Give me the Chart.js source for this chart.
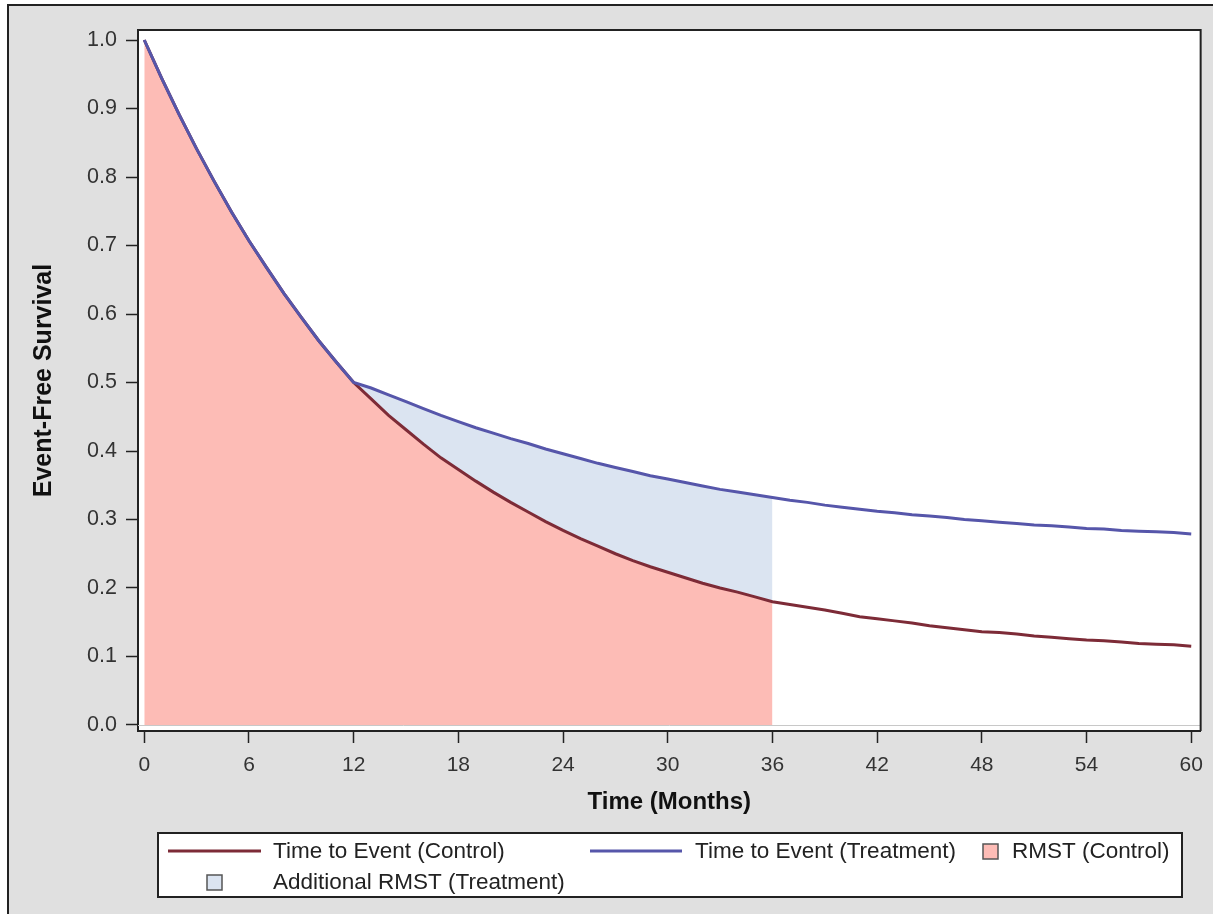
<!DOCTYPE html>
<html><head><meta charset="utf-8">
<script src="https://cdn.jsdelivr.net/npm/chart.js@4"></script>
<style>
html,body{margin:0;padding:0;background:#fff;overflow:hidden;}
#frame{position:absolute;left:7px;top:4px;width:1240px;height:940px;border:2px solid #222;background:#e0e0e0;}
#c{position:absolute;left:0;top:0;width:1213px;height:914px;}
</style></head><body>
<div id="frame"></div>
<canvas id="c" width="1213" height="914"></canvas>
<script>
const months = [0,1,2,3,4,5,6,7,8,9,10,11,12,13,14,15,16,17,18,19,20,21,22,23,24,25,26,27,28,29,30,31,32,33,34,35,36,37,38,39,40,41,42,43,44,45,46,47,48,49,50,51,52,53,54,55,56,57,58,59,60];
const controlSurvival = [1.000,0.944,0.891,0.841,0.794,0.749,0.707,0.668,0.630,0.595,0.561,0.530,0.500,
  0.476,0.452,0.431,0.410,0.390,0.373,0.356,0.340,0.325,0.311,0.297,0.284,0.272,0.261,0.250,0.240,0.231,0.223,
  0.215,0.207,0.200,0.194,0.187,0.180,0.176,0.172,0.168,0.163,0.158,0.155,0.152,0.149,0.145,0.142,0.139,0.136,
  0.135,0.133,0.130,0.128,0.126,0.124,0.123,0.121,0.119,0.118,0.117,0.115];
const treatmentSurvival = [1.000,0.944,0.891,0.841,0.794,0.749,0.707,0.668,0.630,0.595,0.561,0.530,0.500,
  0.492,0.482,0.472,0.462,0.452,0.443,0.434,0.426,0.418,0.411,0.403,0.396,0.389,0.382,0.376,0.370,0.364,0.359,
  0.354,0.349,0.344,0.340,0.336,0.332,0.328,0.325,0.321,0.318,0.315,0.312,0.310,0.307,0.305,0.303,0.300,0.298,
  0.296,0.294,0.292,0.291,0.289,0.287,0.286,0.284,0.283,0.282,0.281,0.279];
const rmstCutoff = 36;
const xTickValues = [0,6,12,18,24,30,36,42,48,54,60];
const yTickValues = [0,0.1,0.2,0.3,0.4,0.5,0.6,0.7,0.8,0.9,1.0];
const seriesLabels = ['Time to Event (Control)','Time to Event (Treatment)','RMST (Control)','Additional RMST (Treatment)'];

const C_CONTROL = '#7d2b37', C_TREAT = '#5656aa', C_PINK = '#fdbcb6', C_BLUE = '#dbe4f1';
const FONT = "'Liberation Sans', Arial, Helvetica, sans-serif";
Chart.defaults.font.family = FONT;
Chart.defaults.color = '#222';

const pts = (arr, lim) => months.map((m,i)=>({x:m,y:arr[i]})).filter(p=>p.x<=lim);

const framePlugin = {
  id:'frame',
  beforeDraw(chart){
    const {ctx, chartArea:a} = chart;
    ctx.save(); ctx.fillStyle='#fff'; ctx.fillRect(a.left,a.top,a.right-a.left,a.bottom-a.top); ctx.restore();
  },
  afterDatasetsDraw(chart){
    const {ctx, chartArea:a, scales:{y}} = chart;
    const y0 = Math.round(y.getPixelForValue(0))+0.5;
    ctx.save();
    ctx.strokeStyle='#c8c8c8'; ctx.lineWidth=1;
    ctx.beginPath(); ctx.moveTo(a.left,y0); ctx.lineTo(a.right,y0); ctx.stroke();
    ctx.restore();
  },
  afterDraw(chart){
    const {ctx, chartArea:a} = chart;
    ctx.save();
    ctx.strokeStyle='#222'; ctx.lineWidth=2;
    ctx.beginPath(); ctx.moveTo(a.left,a.top); ctx.lineTo(a.right,a.top); ctx.lineTo(a.right,a.bottom); ctx.stroke();
    // legend
    const L=158,T=833,W=1024,H=64;
    ctx.fillStyle='#fff'; ctx.fillRect(L,T,W,H);
    ctx.strokeStyle='#222'; ctx.lineWidth=2; ctx.strokeRect(L,T,W,H);
    const r1=851, r2=882;
    ctx.font = "22.5px "+FONT; ctx.textBaseline='middle'; ctx.fillStyle='#222';
    ctx.lineWidth=3;
    ctx.strokeStyle=C_CONTROL; ctx.beginPath(); ctx.moveTo(168,r1); ctx.lineTo(261,r1); ctx.stroke();
    ctx.fillText(seriesLabels[0], 273, r1+1);
    ctx.strokeStyle=C_TREAT; ctx.beginPath(); ctx.moveTo(590,r1); ctx.lineTo(682,r1); ctx.stroke();
    ctx.fillText(seriesLabels[1], 695, r1+1);
    ctx.lineWidth=1.5; ctx.strokeStyle='#555';
    ctx.fillStyle=C_PINK; ctx.fillRect(983,r1-7,15,15); ctx.strokeRect(983,r1-7,15,15);
    ctx.fillStyle='#222'; ctx.fillText(seriesLabels[2], 1012, r1+1);
    ctx.fillStyle=C_BLUE; ctx.fillRect(207,r2-7,15,15); ctx.strokeRect(207,r2-7,15,15);
    ctx.fillStyle='#222'; ctx.fillText(seriesLabels[3], 273, r2+1);
    ctx.restore();
  }
};

new Chart(document.getElementById('c'), {
  type:'line',
  data:{datasets:[
    {label:seriesLabels[2], data:pts(controlSurvival, rmstCutoff), fill:'origin', backgroundColor:C_PINK, borderWidth:0, pointRadius:0, order:3},
    {label:seriesLabels[3], data:pts(treatmentSurvival, rmstCutoff), fill:0, backgroundColor:C_BLUE, borderWidth:0, pointRadius:0, order:2},
    {label:seriesLabels[0], data:pts(controlSurvival, 100), fill:false, borderColor:C_CONTROL, borderWidth:3, pointRadius:0, order:1},
    {label:seriesLabels[1], data:pts(treatmentSurvival, 100), fill:false, borderColor:C_TREAT, borderWidth:3, pointRadius:0, order:0}
  ]},
  options:{
    responsive:false, animation:false, devicePixelRatio:1,
    layout:{padding:{left:0, top:30, right:11, bottom:92}},
    plugins:{legend:{display:false}, tooltip:{enabled:false}},
    elements:{line:{tension:0}},
    scales:{
      x:{type:'linear', min:-0.36, max:60.54,
        afterBuildTicks:s=>{ s.ticks = xTickValues.map(v=>({value:v})); },
        afterFit:s=>{ s.height = 91; },
        ticks:{font:{size:21}, color:'#333', padding:10, maxRotation:0, autoSkip:false, callback:v=>String(v)},
        grid:{drawOnChartArea:false, drawTicks:true, tickLength:12, tickColor:'#222', tickWidth:1.5},
        border:{display:true, color:'#222', width:2},
        title:{display:true, text:'Time (Months)', font:{size:24, weight:'bold'}, color:'#111', padding:{top:0,bottom:5}}
      },
      y:{type:'linear', min:-0.00876, max:1.0146,
        afterBuildTicks:s=>{ s.ticks = yTickValues.map(v=>({value:v})); },
        afterFit:s=>{ s.width = 138; },
        ticks:{font:{size:21.5}, color:'#333', padding:9, autoSkip:false, callback:v=>Number(v).toFixed(1)},
        grid:{drawOnChartArea:false, drawTicks:true, tickLength:12, tickColor:'#222', tickWidth:1.5},
        border:{display:true, color:'#222', width:2},
        title:{display:true, text:'Event-Free Survival', font:{size:25, weight:'bold'}, color:'#111', padding:{top:29,bottom:0}}
      }
    }
  },
  plugins:[framePlugin]
});
</script>
</body></html>
